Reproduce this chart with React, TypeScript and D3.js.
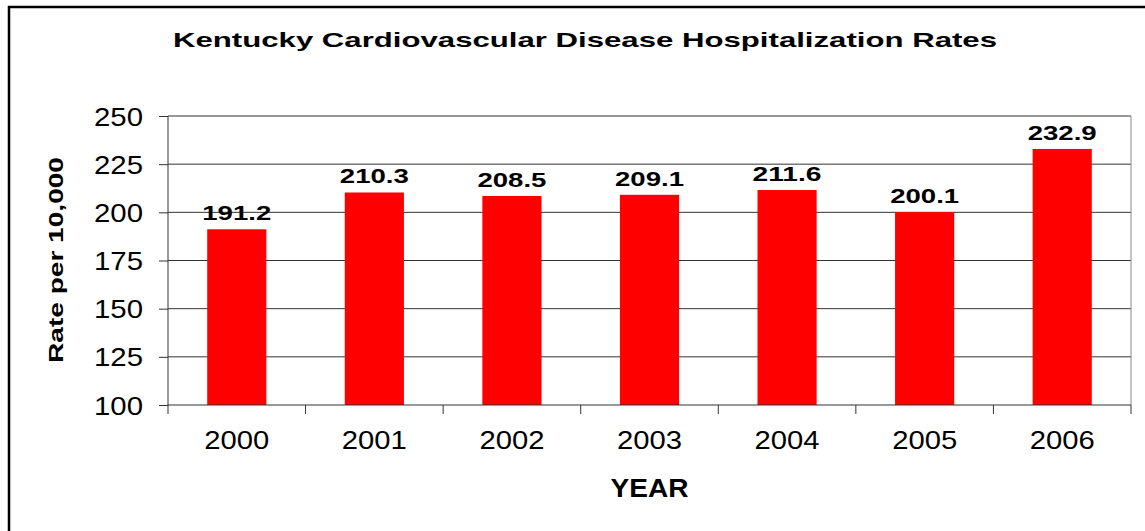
import * as d3 from "d3";
import { useEffect, useRef } from "react";

const years = ["2000", "2001", "2002", "2003", "2004", "2005", "2006"];
const rates = [191.2, 210.3, 208.5, 209.1, 211.6, 200.1, 232.9];
const yTicks = [100, 125, 150, 175, 200, 225, 250];

const W = 1145;
const H = 531;
const font = "'Liberation Sans', Arial, sans-serif";

const App = () => {
    const ref = useRef<SVGSVGElement | null>(null);

    useEffect(() => {
        const svg = d3.select(ref.current);
        svg.selectAll("*").remove();

        const margin = { top: 116, left: 168, right: 14, bottom: 126 };
        const innerW = W - margin.left - margin.right;
        const innerH = H - margin.top - margin.bottom;

        // outer frame (right/bottom edges fall outside the picture)
        svg.append("rect")
            .attr("x", 9).attr("y", 7)
            .attr("width", W).attr("height", H)
            .attr("fill", "none").attr("stroke", "#000").attr("stroke-width", 2.5);

        // the original glyphs are stretched wide, so text gets fitted to measured widths
        svg.append("text")
            .attr("x", 585).attr("y", 47)
            .attr("text-anchor", "middle")
            .attr("font-family", font).attr("font-weight", "bold").attr("font-size", 21)
            .attr("textLength", 824).attr("lengthAdjust", "spacingAndGlyphs")
            .text("Kentucky Cardiovascular Disease Hospitalization Rates");

        const x = d3.scaleBand().domain(years).range([0, innerW]).paddingInner(0.57).paddingOuter(0.285);
        const xOuter = d3.scaleBand().domain(years).range([0, innerW]);
        const y = d3.scaleLinear().domain([100, 250]).range([innerH, 0]);

        const g = svg.append("g").attr("transform", `translate(${margin.left},${margin.top})`);

        // gridlines
        g.selectAll(".grid").data(yTicks.slice(1)).enter().append("line")
            .attr("x1", 0).attr("x2", innerW)
            .attr("y1", d => y(d)).attr("y2", d => y(d))
            .attr("stroke", "#333").attr("stroke-width", 1);

        // right border of plot area
        g.append("line").attr("x1", innerW).attr("x2", innerW).attr("y1", 0).attr("y2", innerH)
            .attr("stroke", "#888").attr("stroke-width", 1);

        g.selectAll(".bar").data(rates).enter().append("rect")
            .attr("x", (d, i) => x(years[i])!)
            .attr("y", d => y(d))
            .attr("width", x.bandwidth())
            .attr("height", d => innerH - y(d))
            .attr("fill", "#ff0000");

        g.selectAll(".val").data(rates).enter().append("text")
            .attr("x", (d, i) => x(years[i])! + x.bandwidth() / 2)
            .attr("y", d => y(d) - 9)
            .attr("text-anchor", "middle")
            .attr("font-family", font).attr("font-weight", "bold").attr("font-size", 21)
            .attr("textLength", 69).attr("lengthAdjust", "spacingAndGlyphs")
            .text(d => d.toFixed(1));

        const yAxis = d3.axisLeft(y).tickValues(yTicks).tickSize(9).tickPadding(16).tickFormat(d3.format("d"));
        const ya = g.append("g").call(yAxis);
        ya.selectAll("text").attr("font-family", font).attr("font-size", 25).attr("fill", "#000").attr("dy", "0.36em")
            .attr("textLength", 49).attr("lengthAdjust", "spacingAndGlyphs");
        ya.selectAll("line").attr("stroke", "#333");
        ya.select(".domain").attr("stroke", "#333").attr("d", `M0,0V${innerH}`);

        const xAxis = d3.axisBottom(xOuter).tickSize(0).tickPadding(26);
        const xa = g.append("g").attr("transform", `translate(0,${innerH})`).call(xAxis);
        xa.selectAll("text").attr("font-family", font).attr("font-size", 25).attr("fill", "#000")
            .attr("textLength", 65).attr("lengthAdjust", "spacingAndGlyphs");
        xa.select(".domain").attr("stroke", "#333").attr("d", `M0,0H${innerW}`);

        // tick marks on band boundaries
        const bounds = [0, ...years.map(yr => xOuter(yr)! + xOuter.bandwidth())];
        g.selectAll(".xtick").data(bounds).enter().append("line")
            .attr("x1", d => d).attr("x2", d => d)
            .attr("y1", innerH).attr("y2", innerH + 9)
            .attr("stroke", "#333");

        g.append("text")
            .attr("x", innerW / 2).attr("y", innerH + 92)
            .attr("text-anchor", "middle")
            .attr("font-family", font).attr("font-weight", "bold").attr("font-size", 25)
            .attr("textLength", 78).attr("lengthAdjust", "spacingAndGlyphs")
            .text("YEAR");

        svg.append("text")
            .attr("transform", `translate(63,260) rotate(-90)`)
            .attr("text-anchor", "middle")
            .attr("font-family", font).attr("font-weight", "bold").attr("font-size", 21)
            .attr("textLength", 206).attr("lengthAdjust", "spacingAndGlyphs")
            .text("Rate per 10,000");
    }, []);

    return (
        <svg ref={ref} width={W} height={H}
            style={{ position: "absolute", left: 0, top: 0, background: "#fff" }} />
    );
};

export default App;
